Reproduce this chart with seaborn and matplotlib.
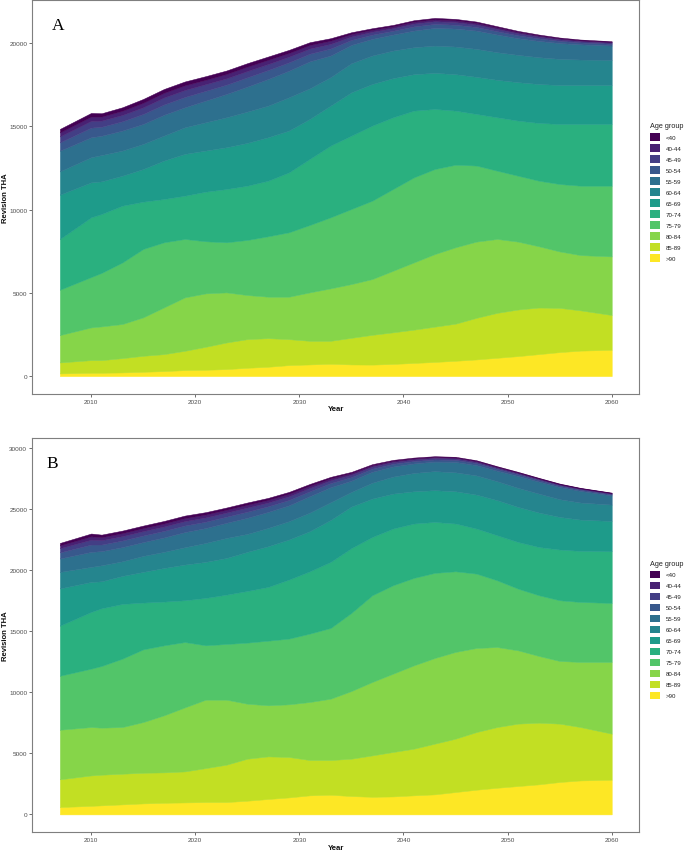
import numpy as np
import matplotlib
matplotlib.use("Agg")
import matplotlib.pyplot as plt
from matplotlib.patches import Patch
import seaborn as sns

# ---------------- data ----------------
years = [2007, 2010, 2011, 2013, 2015, 2017, 2019, 2021, 2023, 2025, 2027, 2029, 2031,
         2033, 2035, 2037, 2039, 2041, 2043, 2045, 2047, 2049, 2051, 2053, 2055, 2057, 2060]

age_groups = ["<40", "40-44", "45-49", "50-54", "55-59", "60-64",
              "65-69", "70-74", "75-79", "80-84", "85-89", ">90"]

# Panel A
a_lt40 = [210, 220, 200, 210, 230, 230, 230, 220, 210, 210, 200, 190, 170, 150, 115, 95, 90, 90, 90, 90, 80, 75, 65, 55, 50, 45, 40]
a_40_44 = [240, 260, 240, 250, 270, 280, 280, 260, 260, 260, 250, 220, 210, 190, 140, 115, 105, 110, 110, 105, 100, 90, 80, 70, 60, 50, 45]
a_45_49 = [360, 400, 370, 380, 400, 420, 420, 400, 380, 380, 360, 340, 310, 280, 205, 175, 155, 170, 160, 155, 145, 135, 120, 105, 90, 80, 70]
a_50_54 = [500, 580, 540, 560, 600, 620, 620, 590, 560, 560, 540, 500, 460, 420, 300, 255, 230, 250, 240, 230, 215, 200, 175, 150, 130, 115, 105]
a_55_59 = [1240, 1200, 1160, 1200, 1200, 1250, 1200, 1300, 1400, 1500, 1600, 1600, 1620, 1300, 1100, 1000, 960, 1000, 1060, 1080, 1100, 1060, 1000, 980, 950, 910, 860]
a_60_64 = [1400, 1510, 1580, 1510, 1510, 1500, 1600, 1700, 1800, 1880, 1900, 2000, 1840, 1710, 1750, 1710, 1660, 1620, 1640, 1660, 1680, 1660, 1640, 1610, 1570, 1530, 1510]
a_65_69 = [2660, 2100, 1960, 1800, 1960, 2310, 2510, 2470, 2510, 2570, 2610, 2510, 2400, 2400, 2600, 2500, 2350, 2190, 2170, 2190, 2230, 2250, 2310, 2340, 2340, 2340, 2340]
a_70_74 = [3050, 3590, 3540, 3410, 2840, 2600, 2600, 2980, 3200, 3260, 3340, 3600, 3970, 4310, 4410, 4510, 4310, 4010, 3610, 3250, 3100, 3210, 3310, 3470, 3610, 3710, 3710]
a_75_79 = [2725, 3025, 3215, 3700, 4110, 3910, 3510, 3130, 3010, 3310, 3630, 3870, 4050, 4270, 4510, 4710, 4910, 5110, 5110, 4960, 4570, 4100, 3960, 3940, 4050, 4170, 4250]
a_80_84 = [1645, 1965, 2025, 2050, 2310, 2810, 3210, 3210, 3010, 2650, 2490, 2550, 2910, 3150, 3230, 3350, 3700, 4040, 4360, 4590, 4580, 4440, 4080, 3680, 3390, 3320, 3520]
a_85_89 = [660, 760, 760, 860, 960, 1020, 1160, 1380, 1600, 1720, 1720, 1560, 1420, 1380, 1600, 1790, 1900, 2000, 2120, 2230, 2500, 2700, 2800, 2800, 2660, 2420, 2090]
a_gt90 = [160, 200, 200, 220, 260, 300, 360, 380, 420, 500, 560, 660, 700, 740, 700, 690, 730, 790, 850, 920, 1000, 1100, 1200, 1320, 1440, 1530, 1580]

# Panel B
b_lt40 = [200, 230, 210, 210, 210, 210, 210, 195, 185, 185, 170, 160, 150, 125, 105, 90, 80, 70, 65, 60, 60, 55, 55, 45, 45, 35, 35]
b_40_44 = [230, 270, 240, 240, 240, 240, 240, 235, 225, 225, 210, 200, 180, 155, 130, 110, 100, 90, 80, 75, 70, 65, 60, 55, 50, 45, 45]
b_45_49 = [340, 400, 360, 360, 360, 360, 360, 350, 340, 340, 310, 300, 270, 230, 195, 170, 145, 130, 120, 115, 110, 100, 90, 85, 75, 70, 60]
b_50_54 = [500, 600, 540, 540, 540, 540, 540, 520, 500, 500, 460, 440, 400, 340, 290, 250, 215, 190, 175, 170, 160, 150, 135, 125, 110, 100, 90]
b_55_59 = [1100, 1230, 1160, 1160, 1130, 1180, 1240, 1220, 1240, 1320, 1310, 1300, 1350, 1230, 920, 900, 830, 780, 780, 850, 840, 860, 970, 980, 1000, 950, 750]
b_60_64 = [1350, 1230, 1310, 1200, 1310, 1320, 1420, 1550, 1640, 1470, 1500, 1500, 1520, 1450, 1200, 1300, 1390, 1500, 1560, 1550, 1570, 1550, 1560, 1550, 1450, 1400, 1340]
b_65_69 = [3050, 2460, 2210, 2290, 2510, 2750, 2920, 2950, 3000, 3200, 3330, 3280, 3280, 3430, 3400, 3140, 2860, 2640, 2600, 2640, 2780, 2870, 2870, 2820, 2670, 2560, 2480]
b_70_74 = [4100, 4640, 4720, 4480, 3830, 3580, 3420, 3880, 4040, 4230, 4400, 4830, 5100, 5410, 5300, 4770, 4640, 4450, 4170, 3910, 3690, 3690, 3820, 3950, 4150, 4180, 4230]
b_75_79 = [4420, 4780, 5050, 5600, 5950, 5730, 5350, 4450, 4560, 5000, 5290, 5380, 5600, 5790, 6400, 7100, 7240, 7160, 6970, 6600, 6090, 5460, 5050, 4970, 4970, 4910, 4830]
b_80_84 = [4060, 3960, 3850, 3820, 4150, 4670, 5240, 5600, 5320, 4500, 4180, 4310, 4750, 5020, 5540, 6010, 6410, 6820, 7010, 7100, 6880, 6550, 6000, 5460, 5130, 5330, 5870]
b_85_89 = [2270, 2490, 2510, 2510, 2510, 2490, 2540, 2780, 3060, 3440, 3490, 3310, 2890, 2840, 3060, 3390, 3640, 3820, 4150, 4370, 4720, 4970, 5110, 5050, 4780, 4370, 3770]
b_gt90 = [600, 700, 740, 820, 900, 950, 980, 1010, 1010, 1120, 1260, 1390, 1560, 1610, 1500, 1440, 1470, 1560, 1640, 1830, 2020, 2180, 2320, 2460, 2650, 2780, 2840]

panel_a = [a_lt40, a_40_44, a_45_49, a_50_54, a_55_59, a_60_64,
           a_65_69, a_70_74, a_75_79, a_80_84, a_85_89, a_gt90]
panel_b = [b_lt40, b_40_44, b_45_49, b_50_54, b_55_59, b_60_64,
           b_65_69, b_70_74, b_75_79, b_80_84, b_85_89, b_gt90]

x_ticks = [2010, 2020, 2030, 2040, 2050, 2060]
a_yticks = [0, 5000, 10000, 15000, 20000]
b_yticks = [0, 5000, 10000, 15000, 20000, 25000, 30000]

# ---------------- style ----------------
sns.set_theme(style="white")
plt.rcParams["font.family"] = ["Liberation Sans", "DejaVu Sans"]

cmap = matplotlib.colormaps["viridis"]
palette = sns.color_palette([cmap(v) for v in np.linspace(0, 1, len(age_groups))])

W, H = 685, 853
fig = plt.figure(figsize=(W / 100, H / 100), dpi=100)

def frac_axes(left_px, top_px, right_px, bottom_px):
    return fig.add_axes([left_px / W, 1 - bottom_px / H,
                         (right_px - left_px) / W, (bottom_px - top_px) / H])

ax_a = frac_axes(32.3, 1.0, 639.3, 395.0)
ax_b = frac_axes(32.3, 439.3, 639.3, 833.3)

border = "#7f7f7f"
tick_col = "#4d4d4d"

def draw_panel(ax, series, yticks, letter, letter_x, legend_top_px):
    bottom_up = list(reversed(series))
    cols = list(reversed(palette))
    polys = ax.stackplot(years, *bottom_up, colors=cols, linewidth=0)
    for p, c in zip(polys, cols):
        p.set_edgecolor(c)
        p.set_linewidth(0.35)
    total = np.sum(np.array(series), axis=0)
    span = years[-1] - years[0]
    ax.set_xlim(years[0] - 0.05 * span, years[-1] + 0.05 * span)
    ymax = total.max()
    ax.set_ylim(-0.05 * ymax, 1.05 * ymax)
    ax.set_xticks(x_ticks)
    ax.set_xticklabels([str(t) for t in x_ticks])
    ax.set_yticks(yticks)
    ax.set_yticklabels([str(t) for t in yticks])
    ax.tick_params(axis="both", which="major", length=2.2, width=0.5,
                   color="#333333", labelsize=4.6, labelcolor=tick_col, pad=1.4,
                   bottom=True, left=True)
    for s in ax.spines.values():
        s.set_visible(True)
        s.set_color(border)
        s.set_linewidth(0.8)
    ax.set_xlabel("Year", fontsize=5.6, fontweight="bold", color="#111111")
    ax.set_ylabel("Revision THA", fontsize=5.6, fontweight="bold", color="#111111")
    ax.xaxis.set_label_coords(0.5, -0.038)
    ax.xaxis.label.set_va("center")
    ax.yaxis.set_label_coords(-0.0435, 0.5)
    ax.yaxis.label.set_va("center")
    ax.grid(False)
    ax.text(letter_x, 0.926, letter, transform=ax.transAxes,
            fontsize=12.5, family=["Liberation Serif", "DejaVu Serif"],
            va="baseline", ha="left", color="black")
    handles = [Patch(facecolor=c, edgecolor="none") for c in palette]
    leg = fig.legend(handles, age_groups, title="Age group", loc="upper left",
                     bbox_to_anchor=(649.5 / W, 1 - legend_top_px / H),
                     frameon=False, fontsize=4.4, title_fontsize=5.2,
                     handlelength=1.7, handleheight=1.5, labelspacing=0.58,
                     handletextpad=0.9, borderpad=0, borderaxespad=0,
                     alignment="left")
    for t in leg.get_texts():
        t.set_color("#222222")
    leg.get_title().set_color("#222222")

draw_panel(ax_a, panel_a, a_yticks, "A", 0.032, 123.5)
draw_panel(ax_b, panel_b, b_yticks, "B", 0.024, 561.0)

fig.savefig("out.png", dpi=100, facecolor="white")
